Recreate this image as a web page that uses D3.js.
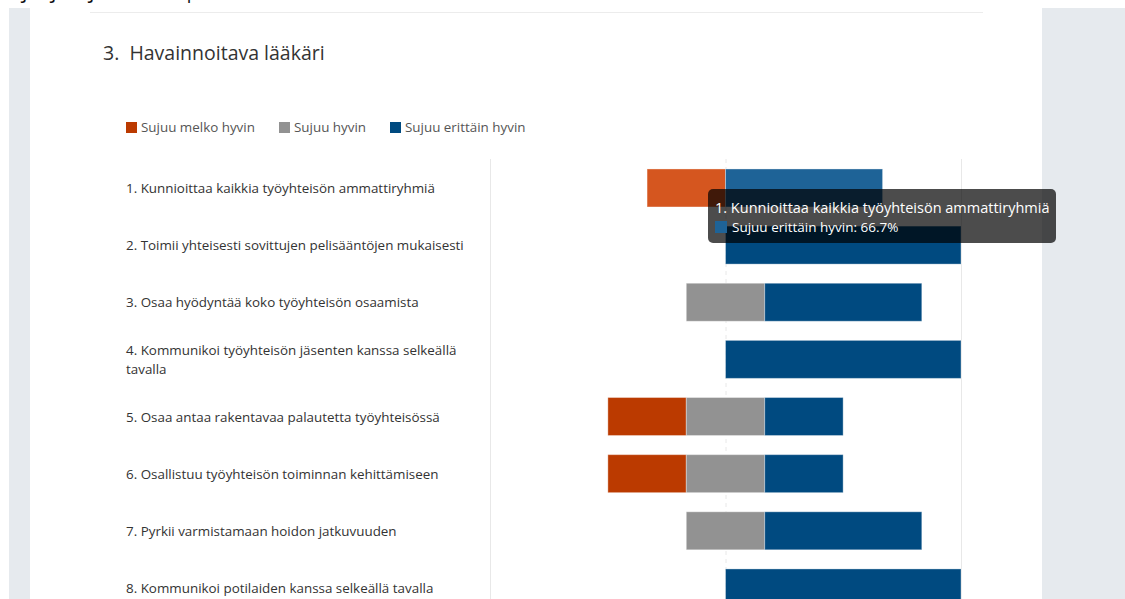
<!DOCTYPE html>
<html>
<head>
<meta charset="utf-8">
<script src="https://cdn.jsdelivr.net/npm/d3@7"></script>
<style>
  html, body { margin: 0; padding: 0; background: #fff; }
  svg { display: block; }
  text { font-family: "Open Sans", "Noto Sans", sans-serif; }
</style>
</head>
<body>
<svg id="chart" width="1125" height="599"></svg>
<script>
// ---- data ----
const categories = [
  "1. Kunnioittaa kaikkia työyhteisön ammattiryhmiä",
  "2. Toimii yhteisesti sovittujen pelisääntöjen mukaisesti",
  "3. Osaa hyödyntää koko työyhteisön osaamista",
  "4. Kommunikoi työyhteisön jäsenten kanssa selkeällä tavalla",
  "5. Osaa antaa rakentavaa palautetta työyhteisössä",
  "6. Osallistuu työyhteisön toiminnan kehittämiseen",
  "7. Pyrkii varmistamaan hoidon jatkuvuuden",
  "8. Kommunikoi potilaiden kanssa selkeällä tavalla"
];
const labelLines = [
  ["1. Kunnioittaa kaikkia työyhteisön ammattiryhmiä"],
  ["2. Toimii yhteisesti sovittujen pelisääntöjen mukaisesti"],
  ["3. Osaa hyödyntää koko työyhteisön osaamista"],
  ["4. Kommunikoi työyhteisön jäsenten kanssa selkeällä", "tavalla"],
  ["5. Osaa antaa rakentavaa palautetta työyhteisössä"],
  ["6. Osallistuu työyhteisön toiminnan kehittämiseen"],
  ["7. Pyrkii varmistamaan hoidon jatkuvuuden"],
  ["8. Kommunikoi potilaiden kanssa selkeällä tavalla"]
];
const seriesNames = ["Sujuu melko hyvin", "Sujuu hyvin", "Sujuu erittäin hyvin"];
const melkoHyvin   = [33.3, 0, 0, 0, 33.3, 33.3, 0, 0];
const hyvin        = [0, 0, 33.3, 0, 33.3, 33.3, 33.3, 0];
const erittainHyvin = [66.7, 100, 66.7, 100, 33.3, 33.3, 66.7, 100];
const gridTicks = [-100, 0, 100];
const title = "3.  Havainnoitava lääkäri";
const hoverIndex = 0;
const tooltipSeries = 2;

// ---- styles ----
const colors = ["#bb3a00", "#929292", "#004a80"];
const hoverColors = ["#d5561f", "#a3a3a3", "#1e6397"];

const svg = d3.select("#chart");

// page frame
svg.append("rect").attr("x", 9).attr("y", 8).attr("width", 21).attr("height", 591).attr("fill", "#e6eaee");
svg.append("rect").attr("x", 1042).attr("y", 8).attr("width", 83).attr("height", 591).attr("fill", "#e6eaee");
svg.append("line").attr("x1", 90).attr("x2", 983).attr("y1", 12.5).attr("y2", 12.5)
  .attr("stroke", "#ececec").attr("stroke-width", 1);
// cut-off text line at very top (only descenders visible)
[[22, "j"], [51, "j"], [89, "j"], [183, "|"]].forEach(([px, ch]) => {
  svg.append("text").attr("x", px).attr("y", -2).attr("font-size", 22).attr("fill", "#111").text(ch);
});

// title
svg.append("text").attr("x", 103).attr("y", 60).attr("font-size", 19.5).attr("fill", "#333")
  .attr("xml:space", "preserve").style("white-space", "pre")
  .text(title);

// legend
const legendX = [126, 279, 390];
seriesNames.forEach((name, i) => {
  svg.append("rect").attr("x", legendX[i]).attr("y", 122).attr("width", 11).attr("height", 11)
    .attr("fill", colors[i]);
  svg.append("text").attr("x", legendX[i] + 15).attr("y", 132).attr("font-size", 13.4)
    .attr("fill", "#555").text(name);
});

// scales
const x = d3.scaleLinear().domain([-100, 100]).range([490, 961]);
const y = d3.scaleBand().domain(categories).range([159.4, 616.5])
  .paddingInner(0.335).paddingOuter(0.1675);

// gridlines
const grid = svg.append("g");
grid.selectAll("line").data(gridTicks).enter().append("line")
  .attr("x1", d => x(d) + 0.5).attr("x2", d => x(d) + 0.5)
  .attr("y1", 159).attr("y2", 599)
  .attr("stroke", "#e8e8e8").attr("stroke-width", 1)
  .attr("stroke-dasharray", d => d === 0 ? "4,4" : null);

// category labels
const labels = svg.append("g");
categories.forEach((c, i) => {
  const lines = labelLines[i];
  const cy = y(c) + y.bandwidth() / 2;
  const t = labels.append("text").attr("x", 126).attr("font-size", 13.4).attr("fill", "#333");
  lines.forEach((ln, j) => {
    t.append("tspan").attr("x", 126)
      .attr("y", cy + 5 + (j - (lines.length - 1) / 2) * 19.5)
      .text(ln);
  });
});

// stacked diverging bars
const segs = [];
categories.forEach((c, i) => {
  const m = melkoHyvin[i], h = hyvin[i], e = erittainHyvin[i];
  segs.push({ s: 0, i, x0: -h / 2 - m, x1: -h / 2, v: m });
  segs.push({ s: 1, i, x0: -h / 2, x1: h / 2, v: h });
  segs.push({ s: 2, i, x0: h / 2, x1: h / 2 + e, v: e });
});
svg.append("g").selectAll("rect").data(segs.filter(d => d.v > 0)).enter().append("rect")
  .attr("x", d => x(d.x0)).attr("width", d => x(d.x1) - x(d.x0))
  .attr("y", d => y(categories[d.i])).attr("height", y.bandwidth())
  .attr("fill", d => d.i === hoverIndex ? hoverColors[d.s] : colors[d.s])
  .attr("stroke", "rgba(255,255,255,0.35)").attr("stroke-width", 1);

// tooltip
const tip = svg.append("g").attr("transform", "translate(708,189)");
tip.append("rect").attr("width", 348).attr("height", 54).attr("rx", 5)
  .attr("fill", "rgba(0,0,0,0.7)");
tip.append("text").attr("x", 7).attr("y", 24).attr("font-size", 14.5).attr("fill", "#fff")
  .text(categories[hoverIndex]);
tip.append("rect").attr("x", 7).attr("y", 32).attr("width", 12).attr("height", 12)
  .attr("fill", hoverColors[tooltipSeries]);
tip.append("text").attr("x", 24).attr("y", 43).attr("font-size", 13.5).attr("fill", "#fff")
  .text(seriesNames[tooltipSeries] + ": " + erittainHyvin[hoverIndex].toFixed(1) + "%");
</script>
</body>
</html>
